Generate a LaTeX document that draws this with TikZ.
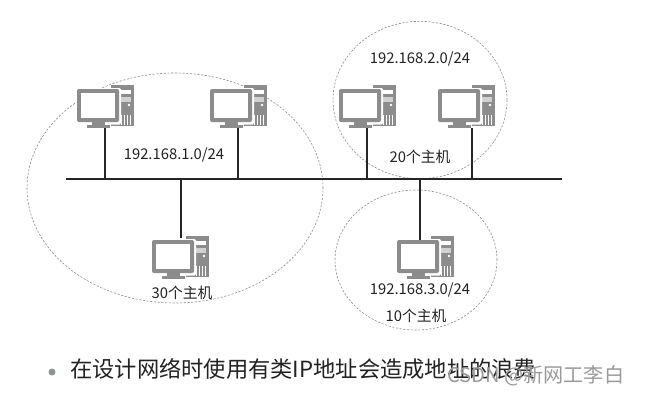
\documentclass[tikz,border=0pt]{standalone}
\usepackage{fontspec}
\usetikzlibrary{shapes.geometric}
\setmainfont{Noto Sans CJK SC}
\definecolor{pcgray}{HTML}{8C8C8C}
\definecolor{txt}{HTML}{222222}
\definecolor{wm}{HTML}{9A9A9A}
\definecolor{bul}{HTML}{8A9499}
\tikzset{
  x=0.75pt,y=-0.75pt,
  net/.style={draw=black!85,line width=1.9pt},
  zone/.style={draw=black!45,dashed,dash pattern=on 1.6pt off 1.2pt,line width=0.45pt},
  lab/.style={text=txt,font=\fontsize{11.1pt}{13pt}\selectfont,inner sep=0pt},
  pc/.pic={
    \fill[pcgray] (34,-4) rectangle (57,37);
    \fill[white] (38,1) rectangle (54,5);
    \fill[pcgray!40] (38,8) rectangle (54,13);
    \fill[white] (52,16) circle (1.3);
    \fill[white] (44,26) rectangle (45,36);
    \fill[white] (47,26) rectangle (48,36);
    \fill[white] (50,26) rectangle (51,36);
    \fill[white] (53,26) rectangle (54,36);
    \fill[white,rounded corners=1pt] (-1,-1) rectangle (44,35.5);
    \fill[pcgray,rounded corners=1.5pt] (0,0) rectangle (42,33);
    \fill[white] (4,4) rectangle (38,29);
    \fill[pcgray] (15,33) rectangle (28,36);
    \fill[pcgray] (10,36) rectangle (33,39);
  }
}
\begin{document}
\begin{tikzpicture}
\useasboundingbox (0,0) rectangle (672,407);
\fill[white] (0,0) rectangle (672,407);
\coordinate (busL) at (66,179);
\coordinate (busR) at (562,179);
\coordinate (t1) at (105,179);
\coordinate (t2) at (238,179);
\coordinate (t3) at (367,179);
\coordinate (t4) at (472,179);
\coordinate (t5) at (181,179);
\coordinate (t6) at (420,179);
\coordinate (p1) at (105,128);
\coordinate (p2) at (238,128);
\coordinate (p3) at (367,128);
\coordinate (p4) at (472,128);
\coordinate (p5) at (181,238);
\coordinate (p6) at (420,240);
\node[zone,ellipse,minimum width=222pt,minimum height=172.5pt,inner sep=0pt] (z1) at (175,188) {};
\node[zone,ellipse,minimum width=130.5pt,minimum height=118pt,inner sep=0pt] (z2) at (420,100) {};
\node[zone,ellipse,minimum width=121.5pt,minimum height=105pt,inner sep=0pt] (z3) at (416,260) {};
\pic at (77,89) {pc};
\pic at (210,89) {pc};
\pic at (339,89) {pc};
\pic at (438,89) {pc};
\pic at (152,240) {pc};
\pic at (397,240) {pc};
\draw[net] (busL) -- (busR);
\draw[net] (t1) -- (p1);
\draw[net] (t2) -- (p2);
\draw[net] (t3) -- (p3);
\draw[net] (t4) -- (p4);
\draw[net] (t5) -- (p5);
\draw[net] (t6) -- (p6);
\node[lab] (l1) at (174,155) {192.168.1.0/24};
\node[lab] (l2) at (420,59) {192.168.2.0/24};
\node[lab] (l3) at (420,290) {192.168.3.0/24};
\node[lab] (n1) at (182,293) {30个主机};
\node[lab] (n2) at (420,157) {20个主机};
\node[lab] (n3) at (416,316) {10个主机};
\fill[bul] (52,372) circle (3.5);
\node[anchor=west,inner sep=0pt,text=txt,font=\fontsize{16.7pt}{19pt}\selectfont] (m) at (70,369) {在设计网络时使用有类IP地址会造成地址的浪费};
\node[anchor=west,inner sep=0pt,text=wm,font=\fontsize{15.1pt}{18pt}\selectfont] (w) at (447,376) {CSDN @新网工李白};
\end{tikzpicture}
\end{document}
